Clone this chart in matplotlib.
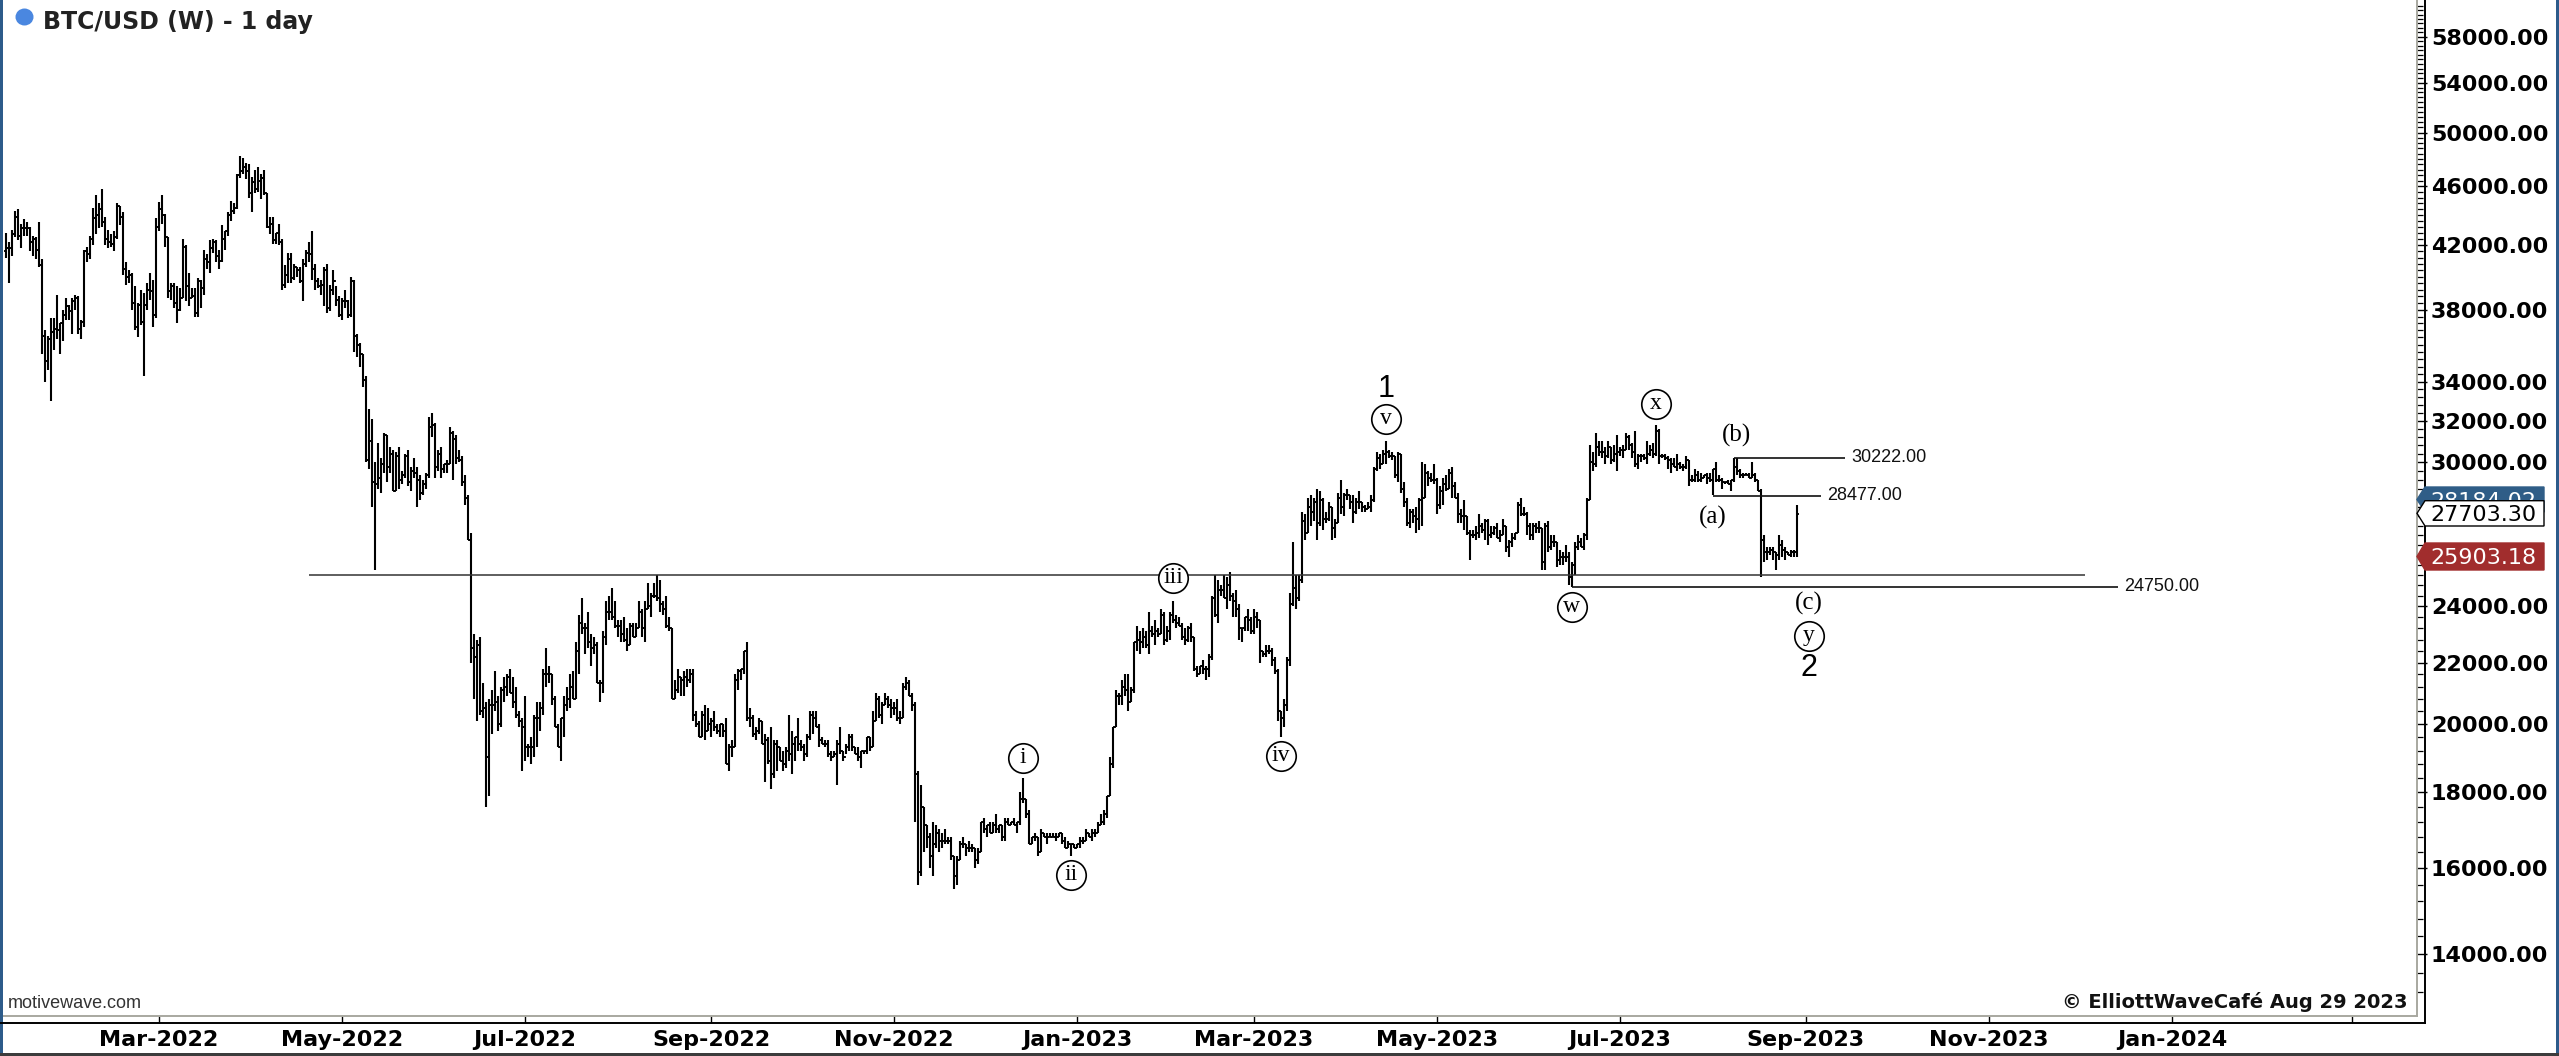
import numpy as np
import matplotlib
matplotlib.use("Agg")
import matplotlib.pyplot as plt
from matplotlib.patches import Polygon, Ellipse, Rectangle
from matplotlib.lines import Line2D

# ---- daily BTC/USD bars, 2022-01-09 .. 2023-08-29, prices in k USD ----
first_day = "2022-01-09"
first_open_k = 41.6

high_k = [
    # 2022-01 (from the 9th)
    42.8, 42.2, 43.0, 44.3, 44.4, 43.4, 43.7, 43.5, 43.2, 42.6, 42.5, 43.5, 41.1, 36.8, 36.5, 37.5, 37.5, 38.9, 37.2, 38.0, 38.7, 38.3, 38.7,
    # 2022-02
    38.9, 38.8, 37.4, 41.7, 41.9, 42.6, 44.5, 45.4, 44.8, 45.8, 43.9, 43.0, 42.7, 42.9, 44.8, 44.6, 44.2, 40.9, 40.4, 40.2, 39.4, 38.4, 39.2, 39.0, 39.6, 40.2, 39.8, 43.8,
    # 2022-03
    44.9, 45.4, 44.1, 42.5, 39.6, 39.6, 39.4, 39.3, 42.4, 42.0, 40.2, 39.3, 39.3, 39.9, 39.8, 41.7, 41.4, 42.3, 42.4, 42.3, 41.7, 43.3, 42.9, 44.2, 45.0, 44.8, 46.9, 48.2, 48.1, 47.7, 47.6,
    # 2022-04
    46.7, 47.2, 47.4, 46.9, 47.2, 45.5, 43.9, 43.9, 42.8, 43.4, 42.4, 40.7, 41.5, 41.5, 40.8, 40.6, 40.6, 41.1, 41.7, 42.2, 42.9, 40.8, 39.9, 39.8, 40.6, 40.8, 39.5, 40.4, 39.4, 38.8,
    # 2022-05
    38.7, 39.2, 38.6, 40.0, 39.8, 36.6, 36.1, 35.5, 34.3, 32.6, 32.1, 30.0, 30.9, 30.2, 31.4, 31.3, 30.7, 30.6, 30.5, 30.7, 29.6, 30.4, 30.6, 29.8, 30.2, 29.8, 29.4, 29.2, 29.5, 32.2, 32.4,
    # 2022-06
    31.9, 30.6, 30.7, 29.9, 30.1, 31.7, 31.5, 31.3, 30.6, 30.3, 29.4, 28.5, 26.9, 23.0, 22.8, 22.9, 21.3, 20.7, 20.8, 21.1, 21.7, 20.9, 21.2, 21.5, 21.6, 21.8, 21.5, 21.2, 20.4, 20.2,
    # 2022-07
    20.9, 19.4, 19.6, 20.3, 20.7, 20.7, 21.8, 22.5, 21.9, 21.6, 20.9, 20.0, 20.2, 20.9, 21.2, 21.6, 21.7, 22.7, 23.7, 24.3, 23.4, 23.8, 23.0, 22.9, 22.7, 21.4, 23.1, 24.2, 24.4, 24.7, 24.2,
    # 2022-08
    23.5, 23.5, 23.6, 23.2, 23.4, 23.4, 23.4, 24.2, 23.9, 24.2, 24.9, 24.5, 24.9, 25.2, 25.0, 24.2, 24.4, 23.6, 23.2, 21.4, 21.8, 21.5, 21.7, 21.8, 21.8, 21.8, 20.4, 20.1, 20.4, 20.6, 20.5,
    # 2022-09
    20.2, 20.4, 20.0, 20.0, 20.0, 20.2, 19.4, 19.5, 21.6, 21.8, 21.8, 22.4, 22.7, 20.5, 20.3, 19.9, 20.2, 20.1, 19.7, 19.6, 19.9, 19.5, 19.5, 19.3, 19.2, 19.3, 20.3, 19.8, 19.6, 20.2,
    # 2022-10
    19.5, 19.4, 19.7, 20.4, 20.4, 20.4, 20.0, 19.6, 19.5, 19.5, 19.2, 19.2, 19.5, 19.9, 19.2, 19.4, 19.7, 19.7, 19.3, 19.3, 19.2, 19.2, 19.6, 19.6, 20.4, 21.0, 20.9, 20.7, 21.0, 20.9, 20.8,
    # 2022-11
    20.7, 20.8, 20.4, 21.3, 21.5, 21.4, 21.0, 20.7, 18.6, 18.2, 17.6, 17.1, 16.9, 17.2, 17.1, 17.0, 16.9, 17.0, 16.8, 16.8, 16.3, 16.3, 16.7, 16.8, 16.6, 16.7, 16.6, 16.5, 16.5, 17.2,
    # 2022-12
    17.3, 17.1, 17.2, 17.2, 17.4, 17.1, 17.1, 17.3, 17.3, 17.2, 17.3, 17.2, 18.0, 18.4, 17.8, 17.5, 16.8, 16.9, 16.8, 17.0, 16.9, 16.9, 16.9, 16.9, 16.9, 16.9, 16.9, 16.8, 16.7, 16.6, 16.6,
    # 2023-01
    16.6, 16.8, 16.8, 17.0, 16.9, 17.0, 17.0, 17.2, 17.4, 17.5, 17.9, 19.0, 19.9, 21.1, 21.0, 21.4, 21.6, 21.6, 21.2, 22.7, 23.3, 23.1, 23.2, 23.1, 23.8, 23.3, 23.5, 23.2, 23.9, 23.8, 23.3,
    # 2023-02
    23.8, 24.2, 23.7, 23.6, 23.4, 23.2, 23.3, 23.4, 22.9, 21.9, 21.9, 22.1, 21.9, 22.3, 24.4, 25.2, 25.0, 24.8, 25.2, 25.1, 25.3, 24.5, 24.6, 24.1, 23.2, 23.6, 23.9, 23.6,
    # 2023-03
    23.9, 23.8, 23.5, 22.4, 22.6, 22.6, 22.5, 22.2, 21.8, 20.4, 20.8, 22.2, 24.5, 26.5, 25.2, 25.2, 27.8, 27.7, 28.4, 28.5, 28.4, 28.8, 28.7, 28.4, 27.8, 28.2, 28.0, 27.5, 28.6, 29.2, 28.6,
    # 2023-04
    28.8, 28.5, 28.5, 28.4, 28.7, 28.2, 28.1, 28.2, 28.5, 29.8, 30.5, 30.4, 30.6, 31.0, 30.6, 30.5, 30.3, 30.5, 30.4, 29.1, 28.4, 27.9, 27.9, 28.0, 28.4, 30.0, 29.9, 29.6, 29.5, 29.9,
    # 2023-05
    29.3, 28.9, 29.3, 29.4, 29.7, 29.8, 29.1, 28.6, 27.9, 28.3, 27.6, 27.0, 27.0, 27.2, 27.7, 27.3, 27.5, 27.5, 27.2, 27.2, 27.3, 27.0, 27.5, 27.2, 26.6, 26.9, 26.9, 28.2, 28.4, 28.0, 27.8,
    # 2023-06
    27.3, 27.3, 27.3, 27.4, 27.1, 27.3, 27.4, 26.8, 26.8, 26.5, 26.2, 26.1, 26.4, 26.1, 25.7, 26.5, 26.8, 26.7, 26.9, 28.4, 30.8, 30.5, 31.4, 31.0, 31.0, 30.7, 31.0, 30.7, 30.8, 31.3,
    # 2023-07
    30.7, 30.8, 31.4, 31.3, 30.9, 31.5, 30.4, 30.4, 30.4, 31.0, 30.8, 30.9, 31.8, 31.6, 30.4, 30.4, 30.3, 30.2, 30.2, 30.4, 30.0, 29.9, 30.3, 30.1, 29.4, 29.7, 29.6, 29.5, 29.4, 29.5, 29.5,
    # 2023-08 (to the 29th)
    29.7, 30.0, 29.4, 29.3, 29.1, 29.2, 29.2, 30.2, 30.2, 29.7, 29.5, 29.5, 29.5, 30.0, 29.5, 29.2, 28.8, 26.8, 26.3, 26.3, 26.3, 26.1, 26.8, 26.6, 26.3, 26.1, 26.2, 26.2, 28.1,
]

low_k = [
    # 2022-01
    41.2, 39.6, 41.3, 42.5, 42.3, 41.8, 42.6, 42.6, 41.6, 41.3, 41.1, 40.6, 35.5, 34.0, 34.6, 33.0, 35.7, 36.3, 35.5, 36.2, 37.4, 37.4, 36.6,
    # 2022-02
    38.0, 36.6, 36.3, 37.0, 40.9, 41.1, 42.0, 42.7, 43.1, 43.2, 42.0, 41.8, 41.9, 41.6, 42.4, 43.3, 40.1, 39.5, 39.6, 38.0, 36.8, 36.4, 37.1, 34.3, 38.0, 38.6, 37.0, 37.5,
    # 2022-03
    42.9, 43.4, 41.9, 38.7, 38.6, 38.1, 37.2, 37.9, 38.7, 38.5, 38.2, 38.7, 37.6, 37.6, 38.1, 38.9, 40.5, 40.2, 41.5, 40.9, 40.5, 40.9, 41.7, 42.6, 43.6, 44.1, 44.4, 46.6, 46.9, 46.5, 45.2,
    # 2022-04
    44.2, 45.5, 45.6, 45.1, 45.4, 43.1, 42.7, 42.1, 42.1, 42.0, 39.2, 39.3, 39.6, 39.6, 39.8, 40.0, 39.6, 38.5, 40.6, 40.9, 39.8, 39.2, 39.3, 38.9, 38.2, 37.8, 37.9, 38.9, 38.2, 37.6,
    # 2022-05
    37.4, 38.1, 37.5, 37.6, 35.6, 35.3, 34.8, 33.7, 30.0, 29.7, 28.0, 25.4, 28.8, 28.6, 29.5, 29.1, 29.5, 28.7, 28.7, 28.8, 29.0, 29.3, 28.9, 28.7, 29.3, 28.0, 28.3, 28.5, 28.8, 29.3, 31.2,
    # 2022-06
    29.3, 29.6, 29.3, 29.5, 29.5, 29.9, 29.2, 29.9, 30.0, 28.9, 28.1, 26.6, 22.0, 20.8, 20.1, 20.3, 20.2, 17.6, 17.9, 19.7, 20.4, 19.8, 19.9, 20.7, 20.9, 21.0, 20.5, 20.2, 19.9, 18.6,
    # 2022-07
    18.9, 19.0, 18.8, 19.0, 19.3, 19.8, 20.3, 21.2, 21.3, 20.6, 19.9, 19.3, 18.9, 19.6, 20.4, 20.5, 20.8, 20.8, 21.6, 23.0, 22.3, 22.5, 21.9, 22.3, 21.3, 20.7, 21.0, 22.6, 23.5, 23.5, 23.2,
    # 2022-08
    22.9, 22.7, 22.7, 22.4, 22.6, 22.9, 22.9, 23.2, 22.9, 22.7, 23.9, 23.6, 24.3, 24.2, 23.8, 23.7, 23.2, 23.1, 20.8, 20.8, 21.0, 20.9, 20.9, 21.2, 21.3, 20.1, 19.9, 19.6, 19.6, 19.5, 19.8,
    # 2022-09
    19.6, 19.8, 19.7, 19.6, 19.6, 18.8, 18.6, 19.0, 19.3, 21.1, 21.4, 21.6, 20.1, 19.9, 19.6, 19.5, 19.7, 19.4, 18.3, 18.8, 18.1, 18.4, 18.6, 18.9, 18.6, 18.7, 18.9, 18.5, 18.9, 19.2,
    # 2022-10
    19.2, 18.9, 19.0, 19.5, 19.7, 19.9, 19.3, 19.4, 19.3, 19.0, 18.9, 19.0, 18.2, 19.1, 18.9, 19.1, 19.2, 19.2, 19.1, 18.9, 18.7, 19.1, 19.1, 19.2, 19.3, 20.1, 20.2, 20.0, 20.6, 20.5, 20.2,
    # 2022-11
    20.3, 20.1, 20.0, 20.2, 21.1, 20.9, 20.4, 17.2, 15.6, 15.8, 16.4, 16.5, 16.0, 15.8, 16.5, 16.4, 16.5, 16.6, 16.6, 16.2, 15.5, 15.6, 16.2, 16.5, 16.3, 16.4, 16.4, 16.0, 16.1, 16.4,
    # 2022-12
    16.9, 16.8, 16.9, 16.9, 16.9, 16.9, 16.7, 16.7, 17.1, 17.1, 17.1, 16.9, 17.1, 17.7, 17.3, 16.6, 16.6, 16.7, 16.3, 16.4, 16.8, 16.6, 16.8, 16.8, 16.7, 16.8, 16.6, 16.5, 16.5, 16.3, 16.5,
    # 2023-01
    16.5, 16.5, 16.6, 16.7, 16.8, 16.7, 16.8, 16.9, 17.1, 17.1, 17.3, 17.9, 18.7, 19.9, 20.6, 20.6, 20.9, 20.4, 20.7, 21.0, 22.4, 22.3, 22.5, 22.5, 22.3, 22.9, 22.6, 22.9, 23.0, 22.6, 22.7,
    # 2023-02
    22.8, 23.4, 23.2, 23.3, 22.8, 22.6, 22.7, 22.7, 21.7, 21.5, 21.6, 21.6, 21.4, 21.5, 22.1, 23.6, 23.4, 24.4, 24.3, 23.9, 24.2, 23.6, 23.6, 22.8, 22.7, 23.1, 23.1, 23.0,
    # 2023-03
    23.0, 23.2, 22.0, 22.2, 22.2, 22.3, 21.9, 21.6, 20.1, 19.6, 19.9, 20.4, 21.9, 24.0, 23.9, 24.2, 24.9, 26.6, 26.9, 27.2, 27.4, 26.6, 27.2, 27.0, 27.3, 27.4, 26.6, 26.7, 27.3, 27.7, 27.6,
    # 2023-04
    28.3, 27.9, 27.3, 27.7, 27.9, 27.8, 27.8, 27.9, 27.8, 28.2, 29.6, 29.7, 29.9, 29.9, 30.2, 30.1, 29.3, 29.1, 28.6, 28.0, 27.2, 27.1, 27.3, 26.9, 27.0, 27.2, 28.4, 28.9, 29.1, 29.0,
    # 2023-05
    27.7, 27.9, 28.1, 28.7, 28.8, 28.4, 28.4, 27.3, 27.3, 27.0, 26.8, 25.8, 26.7, 26.6, 26.7, 26.9, 26.6, 26.4, 26.7, 26.8, 26.7, 26.5, 26.8, 26.1, 25.9, 26.3, 26.6, 26.9, 27.6, 27.6, 26.8,
    # 2023-06
    26.6, 26.6, 26.9, 26.9, 25.4, 25.4, 26.1, 26.2, 26.3, 25.5, 25.6, 25.6, 25.7, 24.8, 24.75, 25.2, 26.2, 26.3, 26.2, 26.6, 28.3, 29.6, 29.8, 30.3, 30.2, 29.9, 30.2, 29.9, 30.0, 29.6,
    # 2023-07
    30.3, 30.2, 30.6, 30.6, 30.2, 29.8, 29.7, 30.0, 30.1, 29.9, 30.3, 30.2, 30.3, 29.9, 30.2, 30.1, 29.7, 29.5, 29.8, 29.6, 29.7, 29.6, 29.7, 28.9, 29.1, 29.1, 29.1, 29.1, 29.3, 29.0, 29.1,
    # 2023-08
    28.5, 29.1, 29.1, 28.8, 29.0, 29.0, 28.7, 29.1, 29.4, 29.3, 29.3, 29.4, 29.3, 29.3, 29.1, 28.7, 25.1, 25.7, 25.8, 26.0, 25.8, 25.4, 25.8, 25.9, 25.8, 26.0, 25.9, 25.9, 25.9,
]

close_k = [
    # 2022-01
    41.8, 41.8, 42.7, 43.9, 42.6, 43.1, 43.1, 43.1, 42.2, 42.4, 41.7, 40.7, 36.5, 35.1, 36.3, 36.7, 36.9, 36.8, 37.2, 37.7, 38.2, 37.9, 38.5,
    # 2022-02
    38.7, 36.9, 37.3, 41.6, 41.4, 42.4, 43.8, 44.0, 44.4, 43.5, 42.4, 42.2, 42.1, 42.5, 44.6, 43.9, 40.5, 40.0, 40.1, 38.4, 37.0, 38.3, 37.3, 38.3, 39.2, 39.1, 37.7, 43.2,
    # 2022-03
    44.4, 44.0, 42.5, 39.1, 39.4, 38.4, 38.0, 38.7, 41.9, 39.4, 38.7, 38.8, 37.8, 39.7, 39.3, 41.1, 40.9, 41.8, 42.2, 41.3, 41.0, 42.4, 42.9, 44.0, 44.3, 44.5, 46.8, 47.1, 47.4, 47.1, 45.5,
    # 2022-04
    46.3, 45.8, 46.4, 46.6, 45.5, 43.2, 43.4, 42.3, 42.8, 42.2, 39.5, 40.1, 41.1, 39.9, 40.6, 40.4, 39.7, 40.8, 41.5, 41.4, 40.5, 39.7, 39.4, 39.5, 40.4, 38.1, 39.2, 39.7, 38.6, 37.7,
    # 2022-05
    38.5, 38.5, 37.7, 39.7, 36.5, 36.0, 35.5, 34.1, 30.1, 31.0, 29.1, 29.0, 29.3, 29.9, 31.3, 29.8, 30.4, 28.7, 30.3, 29.2, 29.4, 30.3, 29.1, 29.6, 29.5, 29.2, 28.6, 29.0, 29.4, 31.7, 31.8,
    # 2022-06
    29.8, 30.4, 29.7, 29.9, 29.9, 31.4, 31.1, 30.2, 30.1, 29.1, 28.4, 26.6, 22.5, 22.2, 22.6, 20.4, 20.5, 19.0, 20.6, 20.6, 20.7, 20.0, 21.1, 21.2, 21.5, 21.0, 20.7, 20.3, 20.1, 19.9,
    # 2022-07
    19.3, 19.3, 19.3, 20.2, 20.2, 20.5, 21.6, 21.6, 21.6, 20.8, 19.9, 19.3, 20.2, 20.6, 20.8, 21.2, 20.8, 22.4, 23.4, 23.2, 23.2, 22.7, 22.5, 22.6, 21.3, 21.3, 22.9, 23.8, 23.8, 23.6, 23.3,
    # 2022-08
    23.3, 23.0, 22.8, 22.6, 23.3, 22.9, 23.2, 23.8, 23.2, 23.9, 24.0, 24.4, 24.4, 24.3, 24.1, 23.9, 23.3, 23.2, 20.8, 21.1, 21.5, 21.4, 21.5, 21.4, 21.6, 20.3, 20.0, 19.6, 20.3, 19.8, 20.0,
    # 2022-09
    20.1, 19.9, 19.8, 20.0, 19.8, 18.8, 19.3, 19.3, 21.4, 21.7, 21.8, 22.4, 20.2, 20.2, 19.7, 19.8, 20.1, 19.4, 19.5, 18.9, 18.5, 19.4, 19.3, 18.9, 18.8, 19.2, 19.1, 19.4, 19.6, 19.4,
    # 2022-10
    19.3, 19.1, 19.6, 20.3, 20.2, 19.9, 19.5, 19.4, 19.4, 19.1, 19.0, 19.1, 19.4, 19.2, 19.0, 19.3, 19.6, 19.3, 19.1, 19.0, 19.2, 19.2, 19.6, 19.3, 20.1, 20.8, 20.3, 20.6, 20.8, 20.6, 20.5,
    # 2022-11
    20.5, 20.2, 20.2, 21.2, 21.3, 20.9, 20.6, 18.5, 15.9, 17.6, 17.1, 16.8, 16.3, 16.6, 16.9, 16.7, 16.7, 16.7, 16.7, 16.3, 15.8, 16.2, 16.6, 16.6, 16.5, 16.5, 16.5, 16.2, 16.4, 17.2,
    # 2022-12
    17.0, 17.1, 16.9, 17.1, 17.0, 17.1, 16.8, 17.2, 17.1, 17.2, 17.1, 17.2, 17.8, 17.8, 17.4, 16.6, 16.8, 16.8, 16.4, 16.9, 16.8, 16.8, 16.8, 16.8, 16.8, 16.9, 16.7, 16.5, 16.6, 16.6, 16.5,
    # 2023-01
    16.6, 16.7, 16.7, 16.9, 16.8, 16.9, 16.9, 17.1, 17.2, 17.4, 17.9, 18.8, 19.9, 20.9, 20.9, 21.2, 21.1, 20.7, 21.1, 22.7, 22.8, 22.7, 22.9, 22.6, 23.1, 23.0, 23.1, 23.0, 23.7, 22.8, 23.1,
    # 2023-02
    23.7, 23.5, 23.4, 23.3, 22.9, 22.8, 23.2, 22.9, 21.8, 21.6, 21.9, 21.8, 21.8, 22.2, 24.3, 23.7, 24.6, 24.6, 24.3, 24.8, 24.4, 24.2, 23.9, 23.2, 23.2, 23.6, 23.5, 23.1,
    # 2023-03
    23.6, 23.5, 22.4, 22.3, 22.4, 22.4, 22.1, 21.7, 20.4, 20.2, 20.6, 22.1, 24.1, 24.7, 24.3, 25.0, 27.4, 26.9, 28.0, 27.8, 28.2, 27.3, 28.3, 27.5, 27.5, 28.0, 27.1, 27.3, 28.4, 28.0, 28.5,
    # 2023-04
    28.5, 28.2, 27.8, 28.2, 28.2, 28.0, 27.9, 28.0, 28.3, 29.7, 30.2, 29.9, 30.4, 30.5, 30.3, 30.3, 29.4, 30.4, 28.8, 28.2, 27.3, 27.8, 27.6, 27.5, 28.3, 28.4, 29.5, 29.3, 29.2, 29.2,
    # 2023-05
    28.1, 28.7, 29.0, 28.8, 29.5, 28.9, 28.4, 27.7, 27.6, 27.6, 26.9, 26.8, 26.8, 26.9, 27.2, 27.0, 27.4, 26.8, 26.9, 27.1, 26.7, 26.8, 27.2, 26.3, 26.5, 26.7, 26.9, 28.1, 27.7, 27.7, 27.2,
    # 2023-06
    26.8, 27.2, 27.1, 27.1, 25.7, 27.2, 26.3, 26.5, 26.5, 25.8, 25.9, 25.9, 25.9, 25.1, 25.6, 26.3, 26.5, 26.3, 26.8, 28.3, 30.0, 29.9, 30.7, 30.5, 30.5, 30.3, 30.7, 30.1, 30.4, 30.5,
    # 2023-07
    30.6, 30.6, 31.2, 30.8, 30.5, 29.9, 30.3, 30.3, 30.2, 30.4, 30.6, 30.4, 31.5, 30.3, 30.3, 30.2, 30.1, 29.9, 29.8, 29.9, 29.8, 29.8, 30.1, 29.2, 29.2, 29.4, 29.2, 29.3, 29.4, 29.3, 29.2,
    # 2023-08
    29.7, 29.2, 29.2, 29.1, 29.1, 29.0, 29.2, 29.8, 29.6, 29.4, 29.4, 29.4, 29.3, 29.4, 29.2, 28.7, 26.6, 26.1, 26.1, 26.2, 26.1, 26.0, 26.4, 26.2, 26.1, 26.0, 26.1, 26.1, 27.7,
]

# ---- drawn price levels ----
resist_price = 25200.0
resist_span = ("2022-04-20", "2023-12-03")
level_prices = [30222.0, 28477.0, 24750.0]
level_spans = [("2023-08-08", "2023-09-14"), ("2023-08-01", "2023-09-06"), ("2023-06-15", "2023-12-14")]
level_text_at = ["2023-09-16", "2023-09-08", "2023-12-16"]

# ---- Elliott wave labels ----
circled_text = ["i", "ii", "iii", "iv", "v", "w", "x", "y"]
circled_dates = ["2022-12-14", "2022-12-30", "2023-02-02", "2023-03-10", "2023-04-14", "2023-06-15", "2023-07-13", "2023-09-02"]
circled_prices = [18970, 15830, 25070, 19030, 32080, 23980, 32830, 22920]
plain_text = ["1", "2"]
plain_dates = ["2023-04-14", "2023-09-02"]
plain_prices = [33760, 21910]
paren_text = ["(a)", "(b)", "(c)"]
paren_dates = ["2023-08-01", "2023-08-09", "2023-09-02"]
paren_prices = [27560, 31290, 24120]

# ---- axes ----
y_major = [14000, 16000, 18000, 20000, 22000, 24000, 26000, 28000, 30000, 32000, 34000,
           38000, 42000, 46000, 50000, 54000, 58000]
y_hidden = [26000, 28000]   # labels sit under the price flags
month_ticks = ["2022-03-01", "2022-05-01", "2022-07-01", "2022-09-01", "2022-11-01", "2023-01-01",
               "2023-03-01", "2023-05-01", "2023-07-01", "2023-09-01", "2023-11-01", "2024-01-01", "2024-03-01"]
month_labels = ["Mar-2022", "May-2022", "Jul-2022", "Sep-2022", "Nov-2022", "Jan-2023",
                "Mar-2023", "May-2023", "Jul-2023", "Sep-2023", "Nov-2023", "Jan-2024", ""]

# axis flags (blue one sits under the white one)
flag_text = ["28184.02", "27703.30", "25903.18"]
flag_face = ["#2f5d87", "white", "#a12d2d"]
flag_textcol = ["white", "black", "white"]

W, H, DPI = 2559, 1056, 100
REF = np.datetime64("2022-03-01")


def day(s):
    return (np.datetime64(s) - REF) / np.timedelta64(1, "D")


def fx(px):
    return px / W


def fy(py):
    return 1 - py / H


assert len(high_k) == len(low_k) == len(close_k)
x = day(first_day) + np.arange(len(close_k))
hi = np.array(high_k) * 1000
lo = np.array(low_k) * 1000
cl = np.array(close_k) * 1000
op = np.r_[first_open_k * 1000, cl[:-1]]

fig = plt.figure(figsize=(W / DPI, H / DPI), dpi=DPI)
fig.patch.set_facecolor("white")
ax = fig.add_axes([0, 40 / H, 2417 / W, 1016 / H])
ax.set_yscale("log")
ax.set_ylim(12727, 61390)
ax.set_xlim(-53, 752.7)

bar_col = "black"
ax.vlines(x, lo, hi, color=bar_col, lw=1.5)
ax.hlines(op, x - 0.55, x, color=bar_col, lw=1.3)
ax.hlines(cl, x, x + 0.55, color=bar_col, lw=1.3)

# horizontal levels
ax.hlines(resist_price, day(resist_span[0]), day(resist_span[1]), color="#333333", lw=1.1)
for p, (a, b), t in zip(level_prices, level_spans, level_text_at):
    ax.hlines(p, day(a), day(b), color="#111111", lw=1.2)
    ax.text(day(t), p, f"{p:.2f}", fontsize=13, family="Liberation Sans", va="center", ha="left", color="#111111")

# wave labels
circ_x = [day(d) for d in circled_dates]
ax.scatter(circ_x, circled_prices, s=450, marker="o", facecolors="white", edgecolors="black",
           linewidths=1.2, zorder=5)
for t, cx, cp in zip(circled_text, circ_x, circled_prices):
    ax.annotate(t, (cx, cp), xytext=(0, -3.6), textcoords="offset points", ha="center", va="baseline",
                fontsize=17, family="Liberation Serif", zorder=6)
for t, d, p in zip(plain_text, plain_dates, plain_prices):
    ax.annotate(t, (day(d), p), xytext=(0, -8.0), textcoords="offset points", ha="center", va="baseline",
                fontsize=22, family="Liberation Sans", zorder=6)
for t, d, p in zip(paren_text, paren_dates, paren_prices):
    ax.text(day(d), p, t, ha="center", va="center", fontsize=18, family="Liberation Serif", zorder=6)

# y axis on the right
ax.yaxis.tick_right()
ax.set_yticks(y_major)
ax.set_yticklabels(["" if v in y_hidden else f"{v:.2f}" for v in y_major])
ax.set_yticks(np.arange(13200, 61000, 400), minor=True)
ax.yaxis.set_minor_formatter(matplotlib.ticker.NullFormatter())
ax.tick_params(axis="y", which="major", direction="out", length=7, width=1.0, pad=3, labelsize=16, colors="black")
ax.tick_params(axis="y", which="minor", direction="out", length=4.3, width=0.9, colors="black")
for lbl in ax.get_yticklabels():
    lbl.set_fontweight("bold")

# x axis
ax.set_xticks([day(m) for m in month_ticks])
ax.set_xticklabels(month_labels)
ax.tick_params(axis="x", which="major", direction="out", length=5, width=1.0, pad=5, labelsize=16, colors="black")
ax.tick_params(axis="x", which="minor", length=0)
for lbl in ax.get_xticklabels():
    lbl.set_fontweight("bold")

for side in ["top", "left"]:
    ax.spines[side].set_visible(False)
for side in ["right", "bottom"]:
    ax.spines[side].set_color("#a8a8a0")
    ax.spines[side].set_linewidth(1.4)

# outer axis lines
fig.add_artist(Line2D([0, fx(2425)], [fy(1023), fy(1023)], color="black", lw=1.4))
fig.add_artist(Line2D([fx(2425), fx(2425)], [fy(1023), 1], color="black", lw=1.4))

# frame
fig.add_artist(Rectangle((0, 0), fx(3), 1, color="#2d5b8a", lw=0))
fig.add_artist(Rectangle((fx(2556), 0), fx(3), 1, color="#2d5b8a", lw=0))
fig.add_artist(Rectangle((0, 0), 1, 3 / H, color="#3c3c3c", lw=0))

# title and marks
fig.add_artist(Ellipse((fx(24.5), fy(17)), 18 / W, 17 / H, color="#4a87e0", lw=0))
fig.text(fx(43), fy(29.5), "BTC/USD (W) - 1 day", fontsize=17, fontweight="bold", color="#222222",
         ha="left", va="baseline")
fig.text(fx(8), fy(1008), "motivewave.com", fontsize=13, family="Liberation Sans", color="#333333",
         ha="left", va="baseline")
fig.text(fx(2408), fy(1008), "\u00a9 ElliottWaveCaf\u00e9 Aug 29 2023", fontsize=14, fontweight="bold",
         color="#111111", ha="right", va="baseline")

# price flags on the axis, stacked so later flags cover earlier ones
flag_boxes = [(487, 512), (500.7, 526), (543, 570)]
for k, ((top, bot), txt, fc, tc) in enumerate(zip(flag_boxes, flag_text, flag_face, flag_textcol)):
    mid = (top + bot) / 2
    pts = [(fx(2417), fy(mid)), (fx(2425), fy(top)), (fx(2544), fy(top)), (fx(2544), fy(bot)), (fx(2425), fy(bot))]
    ec = "black" if fc == "white" else fc
    fig.add_artist(Polygon(pts, closed=True, facecolor=fc, edgecolor=ec, lw=1.0, zorder=10 + 2 * k))
    fig.text(fx(2430), fy(mid), txt, fontsize=16, color=tc, ha="left", va="center_baseline", zorder=11 + 2 * k)

fig.savefig("out.png", dpi=DPI, facecolor="white")
